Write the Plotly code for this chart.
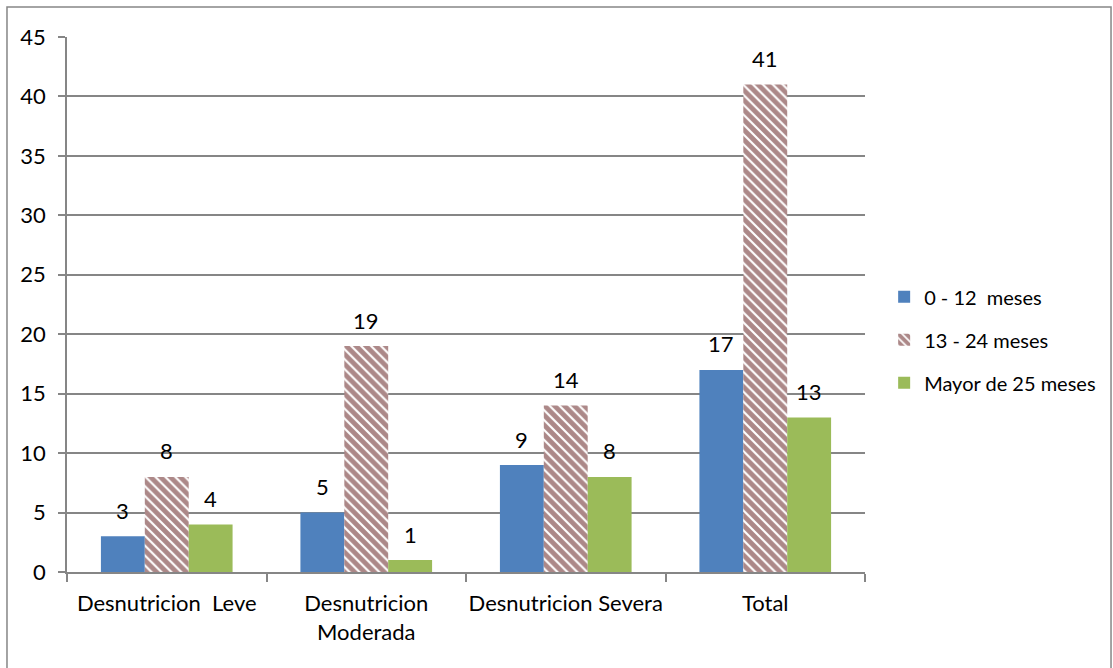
import plotly.graph_objects as go

categories = ["Desnutricion  Leve", "Desnutricion<br>Moderada", "Desnutricion Severa", "Total"]
series_names = ["0 - 12  meses", "13 - 24 meses", "Mayor de 25 meses"]
vals_0_12 = [3, 5, 9, 17]
vals_13_24 = [8, 19, 14, 41]
vals_25 = [4, 1, 8, 13]
y_ticks = [0, 5, 10, 15, 20, 25, 30, 35, 40, 45]

FONT = "Lato, Liberation Sans, sans-serif"
series_vals = [vals_0_12, vals_13_24, vals_25]

fig = go.Figure()
fig.add_trace(go.Bar(
    name=series_names[0], x=categories, y=vals_0_12,
    marker=dict(color="#4F81BD", line=dict(width=0)), legendgroup="a",
))
fig.add_trace(go.Bar(
    name=series_names[1], x=categories, y=vals_13_24,
    marker=dict(color="white", line=dict(width=0),
                pattern=dict(shape="\\", fgcolor="#5A1212", bgcolor="white",
                             size=7, solidity=0.7, fillmode="overlay")),
    legendgroup="b",
))
fig.add_trace(go.Bar(
    name=series_names[2], x=categories, y=vals_25,
    marker=dict(color="#9BBB59", line=dict(width=0)), legendgroup="c",
))

annotations = []
for i, vals in enumerate(series_vals):
    for cat, v in zip(categories, vals):
        annotations.append(dict(
            x=cat, y=v, xref="x", yref="y", text=str(v), showarrow=False,
            xshift=(i - 1) * 44, yshift=26, yanchor="middle",
            font=dict(size=22, family=FONT, color="black"),
        ))

fig.update_layout(
    width=1113, height=668,
    margin=dict(l=67, r=248, t=37, b=96, autoexpand=False),
    paper_bgcolor="white", plot_bgcolor="white",
    font=dict(family=FONT, size=20, color="black"),
    barmode="group", bargap=0.34, bargroupgap=0,
    showlegend=True,
    legend=dict(x=1.024, y=0.434, xanchor="left", yanchor="middle",
                font=dict(size=20, family=FONT, color="black"),
                tracegroupgap=14, traceorder="grouped",
                bgcolor="rgba(0,0,0,0)"),
    xaxis=dict(
        showline=True, linecolor="#868686", linewidth=1.5,
        ticks="outside", ticklen=8, tickcolor="#868686", tickwidth=1.5,
        tickson="boundaries", showgrid=False, ticklabelstandoff=11,
        tickangle=0, automargin=False,
        tickfont=dict(size=22, family=FONT),
    ),
    yaxis=dict(
        range=[0, 45], tickvals=y_ticks,
        showline=True, linecolor="#868686", linewidth=1.5,
        showgrid=True, gridcolor="#868686", gridwidth=1.5,
        ticks="outside", ticklen=7, tickcolor="#868686", tickwidth=1.5,
        tickfont=dict(size=22, family=FONT), zeroline=False,
        ticklabelstandoff=8, automargin=False,
    ),
    annotations=annotations,
    shapes=[dict(type="rect", xref="paper", yref="paper",
                 x0=-0.0752, x1=1.3083, y0=-0.25, y1=1.056,
                 line=dict(color="#868686", width=1.5), fillcolor="rgba(0,0,0,0)",
                 layer="below")],
)

fig.write_html("out.html")
